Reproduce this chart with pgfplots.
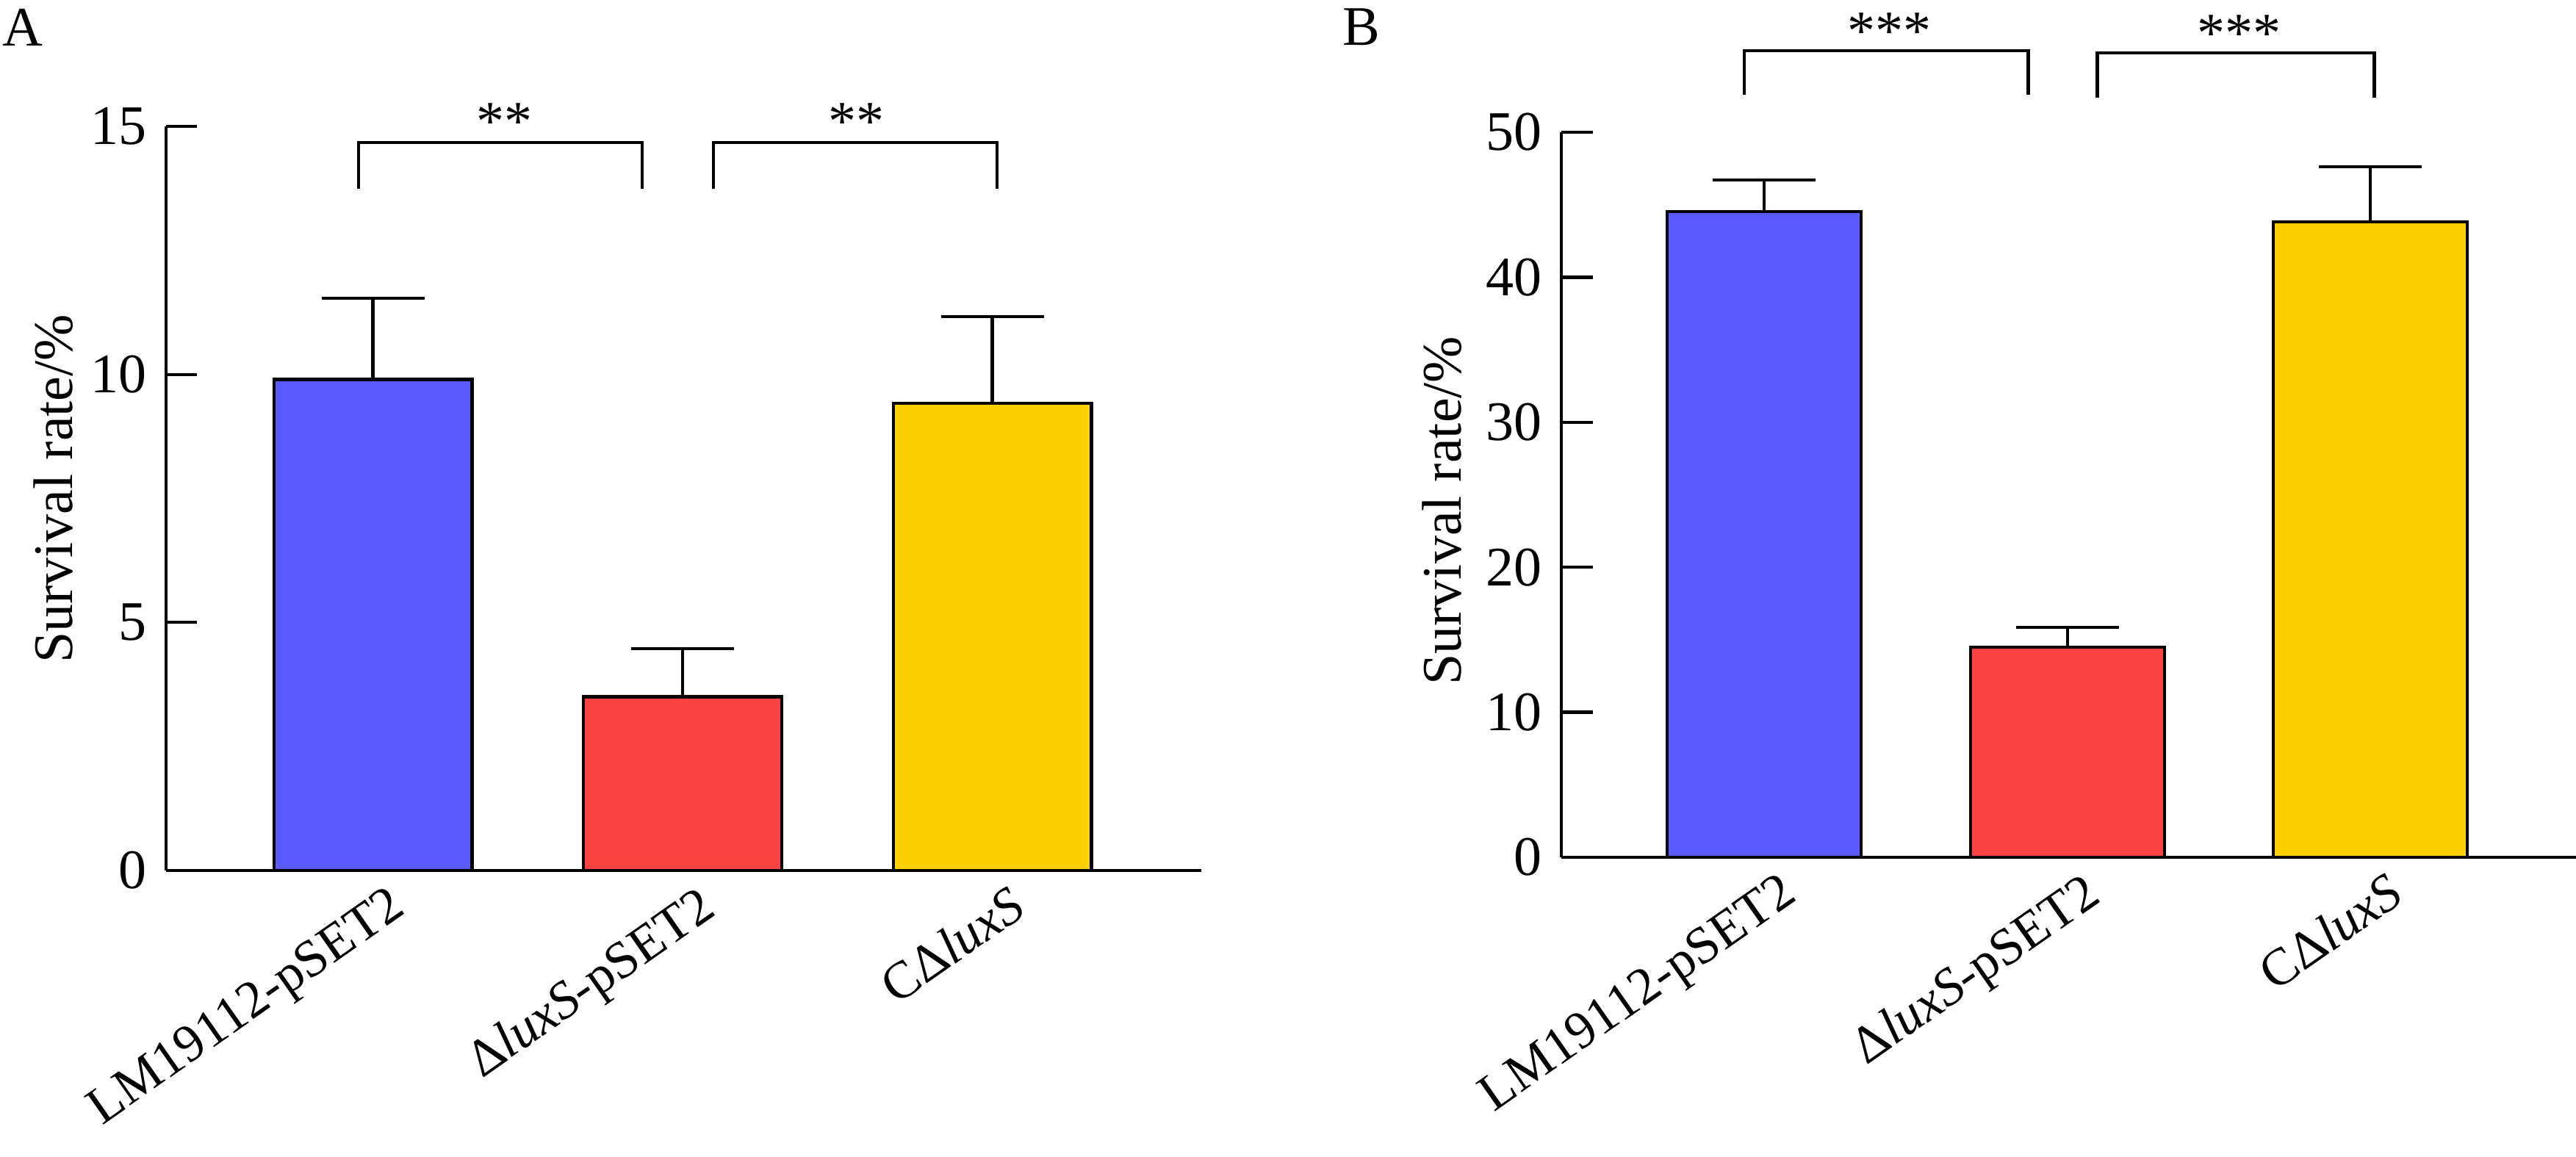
\documentclass[border=0pt]{standalone}
\usepackage{fontspec}
\setmainfont{Liberation Serif}
\usepackage{pgfplots}
\pgfplotsset{compat=1.18}
\definecolor{cblue}{HTML}{5A5AFF}
\definecolor{cred}{HTML}{F94141}
\definecolor{cyel}{HTML}{FFD000}
\pgfplotsset{
  panel/.style={
    anchor=south west, scale only axis,
    axis x line*=bottom, axis y line*=left, tick pos=left,
    axis line style={line width=0.85pt, black},
    tick align=inside, major tick length=8.5pt,
    ytick style={line width=0.85pt, black},
    xtick={0,1,2}, xtick style={draw=none},
    xticklabels={LM19112-pSET2, Δ\textit{luxS}-pSET2, CΔ\textit{luxS}},
    xticklabel style={font=\fontsize{14.3}{17}\selectfont, rotate=35, anchor=north east, inner sep=0pt, xshift=1.3pt, yshift=-5pt},
    ylabel={Survival rate/\%},
    xmin=-0.668, xmax=2.675, ymin=0,
    clip=false,
    /pgf/number format/assume math mode=true,
  },
  mybar/.style={ybar, bar width=0.64, bar shift=0pt, draw=black, line width=0.85pt, fill=#1,
    error bars/.cd, y dir=plus, y explicit,
    error bar style={line width=0.85pt, black},
    error mark options={rotate=90, line width=0.85pt, black, mark size=14pt}},
  brk/.style={black, line width=0.85pt, sharp plot, no marks, forget plot},
}
\begin{document}
\fontsize{15.2}{18}\selectfont
\begin{tikzpicture}
\useasboundingbox (0,0) rectangle (701.2pt,315pt);
\node[anchor=base west, inner sep=0pt] at (0.4pt,302.4pt) {A};
\node[anchor=base west, inner sep=0pt] at (365.2pt,302.6pt) {B};
\begin{axis}[panel, at={(45.2pt,78pt)}, width=281.8pt, height=202.6pt,
  ymax=15, ytick={0,5,10,15},
  ylabel style={at={(axis description cs:-0.1086,0.513)}, anchor=center}]
\addplot[mybar=cblue] coordinates {(0,9.90) +- (0,1.63)};
\addplot[mybar=cred] coordinates {(1,3.50) +- (0,0.97)};
\addplot[mybar=cyel] coordinates {(2,9.42) +- (0,1.74)};
\addplot[brk] coordinates {(-0.046,13.74) (-0.046,14.67) (0.869,14.67) (0.869,13.74)};
\addplot[brk] coordinates {(1.0996,13.74) (1.0996,14.67) (2.015,14.67) (2.015,13.74)};
\node[anchor=base, inner sep=0pt] at (axis cs:0.425,14.72) {**};
\node[anchor=base, inner sep=0pt] at (axis cs:1.56,14.72) {**};
\end{axis}
\begin{axis}[panel, at={(425pt,81.6pt)}, width=276.2pt, height=197.4pt,
  xmin=-0.670, xmax=2.679,
  ymax=50, ytick={0,10,20,30,40,50},
  ylabel style={at={(axis description cs:-0.1173,0.478)}, anchor=center}]
\addplot[mybar=cblue] coordinates {(0,44.53) +- (0,2.18)};
\addplot[mybar=cred] coordinates {(1,14.49) +- (0,1.37)};
\addplot[mybar=cyel] coordinates {(2,43.82) +- (0,3.80)};
\addplot[brk] coordinates {(-0.067,52.58) (-0.067,55.62) (0.871,55.62) (0.871,52.58)};
\addplot[brk] coordinates {(1.099,52.38) (1.099,55.47) (2.013,55.47) (2.013,52.38)};
\node[anchor=base, inner sep=0pt] at (axis cs:0.413,55.7) {***};
\node[anchor=base, inner sep=0pt] at (axis cs:1.568,55.55) {***};
\end{axis}
\end{tikzpicture}
\end{document}
